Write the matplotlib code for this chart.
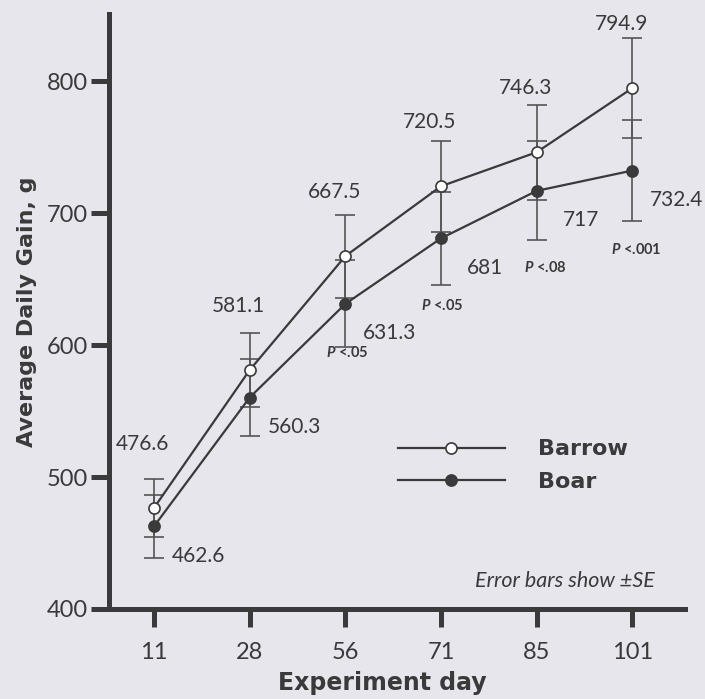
import matplotlib
matplotlib.use("Agg")
import matplotlib.pyplot as plt

days = ["11", "28", "56", "71", "85", "101"]
barrow = [476.6, 581.1, 667.5, 720.5, 746.3, 794.9]
boar = [462.6, 560.3, 631.3, 681.0, 717.0, 732.4]
barrow_se = [22, 28, 31.5, 34.5, 36, 38]
boar_se = [24, 29.5, 33, 35.5, 37.5, 38.5]
p_labels = ["", "", "<.05", "<.05", "<.08", "<.001"]

bg = "#e6e6ec"
ink = "#3a3a3a"
plt.rcParams['font.family'] = ['Lato', 'DejaVu Sans']
plt.rcParams['mathtext.fontset'] = 'custom'
plt.rcParams['mathtext.bfit'] = 'Lato:bold:italic'
wide = ['DejaVu Sans']  # the bold titles in the original are wide and spaced out

fig = plt.figure(figsize=(7.05, 6.99), dpi=100, facecolor=bg)
ax = fig.add_axes([0.1546, 0.1288, 0.817, 0.851])
ax.set_facecolor(bg)

x = list(range(len(days)))

ax.errorbar(x, barrow, yerr=barrow_se, fmt="none", ecolor="#555555", elinewidth=1.2,
            capsize=7, capthick=1.2, zorder=2)
ax.errorbar(x, boar, yerr=boar_se, fmt="none", ecolor="#555555", elinewidth=1.2,
            capsize=7, capthick=1.2, zorder=2)
ax.plot(x, barrow, color=ink, lw=1.6, marker="o", ms=8, mfc="white", mec=ink, mew=1.2,
        label="Barrow", zorder=4)
ax.plot(x, boar, color=ink, lw=1.6, marker="o", ms=8, mfc=ink, mec=ink, mew=1.2,
        label="Boar", zorder=4)

# value labels
for i in x:
    ax.annotate(f"{barrow[i]:g}", (i, barrow[i]), xytext=(-8, 46), textcoords="offset points",
                ha="center", va="center", fontsize=15, color=ink)
    ax.annotate(f"{boar[i]:g}", (i, boar[i]), xytext=(32, -21), textcoords="offset points",
                ha="center", va="center", fontsize=15, color=ink)

p_offsets = [(0, 0), (0, 0), (1, -35), (1, -48), (6, -55), (3, -57)]
for i in x:
    if p_labels[i]:
        ax.annotate(r"$\mathbfit{P}$ " + p_labels[i], (i, boar[i]), xytext=p_offsets[i],
                    textcoords="offset points", ha="center", va="center",
                    fontsize=10.5, fontweight="bold", color=ink)

ax.text(0.947, 0.047, "Error bars show ±SE", transform=ax.transAxes, ha="right", va="center",
        fontsize=15.5, style="italic", color=ink)

ax.set_xlim(-0.47, 5.55)
ax.set_ylim(400, 851)
ax.set_xticks(x)
ax.set_xticklabels(days)
ax.set_yticks([400, 500, 600, 700, 800])

for s in ["top", "right"]:
    ax.spines[s].set_visible(False)
for s in ["left", "bottom"]:
    ax.spines[s].set_linewidth(3.6)
    ax.spines[s].set_color(ink)
ax.tick_params(axis="both", length=13, width=3.6, color=ink, labelcolor=ink, labelsize=17)
ax.tick_params(axis="y", pad=2)
ax.tick_params(axis="x", pad=11)

ax.set_xlabel("Experiment day", fontsize=17, fontweight="bold", color=ink, family=wide)
ax.set_ylabel("Average Daily Gain, g", fontsize=16, fontweight="bold", color=ink, labelpad=7,
              family=wide)
ax.xaxis.set_label_coords(0.474, -0.104)

leg = ax.legend(loc="center left", bbox_to_anchor=(0.467, 0.241), frameon=False,
                handlelength=4.8, handletextpad=1.5, labelspacing=0.55,
                prop={"weight": "bold", "size": 16, "family": wide})
for t in leg.get_texts():
    t.set_color(ink)

fig.savefig("out.png", dpi=100, facecolor=bg)
